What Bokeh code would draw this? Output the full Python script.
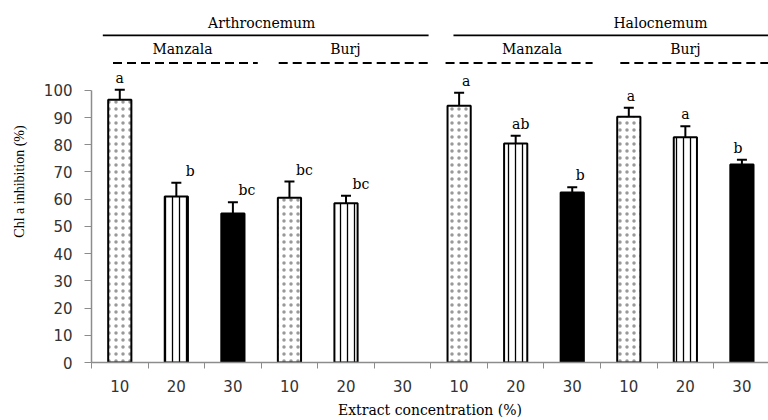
from bokeh.plotting import figure
from bokeh.models import ColumnDataSource, Whisker, TeeHead, FixedTicker, Range1d
from bokeh.core.properties import value
from bokeh.embed import file_html
from bokeh.resources import INLINE

# ---------------- data ----------------
concentrations = ["10", "20", "30", "10", "20", "30", "10", "20", "30", "10", "20", "30"]
species = ["Arthrocnemum"] * 6 + ["Halocnemum"] * 6
sites = ["Manzala"] * 3 + ["Burj"] * 3 + ["Manzala"] * 3 + ["Burj"] * 3
inhibition = [96.5, 61.0, 54.7, 60.5, 58.5, None, 94.3, 80.5, 62.5, 90.3, 82.8, 72.7]
errors = [3.7, 5.0, 4.2, 6.0, 2.8, None, 4.8, 2.8, 1.9, 3.3, 4.0, 1.8]
letters = ["a", "b", "bc", "bc", "bc", "", "a", "ab", "b", "a", "a", "b"]
y_ticks = [0, 10, 20, 30, 40, 50, 60, 70, 80, 90, 100]

# header annotations (layout)
species_labels = ["Arthrocnemum", "Halocnemum"]
species_x = [3.01, 10.06]
species_lines = [(0.2, 5.96), (6.40, 11.97)]
site_labels = ["Manzala", "Burj", "Manzala", "Burj"]
site_x = [1.61, 4.49, 7.79, 10.5]
site_lines = [(0.38, 2.94), (3.31, 5.96), (6.26, 8.86), (9.35, 11.97)]
letter_dx = [0, 14, 14, 15, 15, 0, 7, 5, 8, 2, 0, -4]

SERIF = value("DejaVu Serif")

p = figure(width=768, height=420, output_backend="svg", toolbar_location=None,
           x_range=Range1d(0, 11.97), y_range=Range1d(0, 133.0),
           min_border_left=91, min_border_right=0, min_border_top=0,
           min_border_bottom=56)
p.outline_line_color = None
p.xgrid.visible = False
p.ygrid.visible = False

styles = {
    "10": dict(fill_color="white", hatch_pattern="dot", hatch_scale=7, hatch_weight=1.0,
               hatch_alpha=0.4),
    "20": dict(fill_color="white", hatch_pattern="vertical_line", hatch_scale=7, hatch_weight=1.3),
    "30": dict(fill_color="black"),
}

idx = [i for i, v in enumerate(inhibition) if v is not None]
for c in ["10", "20", "30"]:
    ii = [i for i in idx if concentrations[i] == c]
    src = ColumnDataSource(dict(x=[i + 0.5 for i in ii], top=[inhibition[i] for i in ii]))
    p.vbar(x="x", top="top", width=0.41, source=src, line_color="black", line_width=2,
           hatch_color="black", **styles[c])

esrc = ColumnDataSource(dict(
    x=[i + 0.5 for i in idx],
    upper=[inhibition[i] + errors[i] for i in idx],
    lower=[inhibition[i] - errors[i] for i in idx],
    lab_y=[inhibition[i] + errors[i] + 4.4 for i in idx],
    lab=[letters[i] for i in idx],
    dx=[letter_dx[i] for i in idx],
))
p.add_layout(Whisker(source=esrc, base="x", upper="upper", lower="lower",
                     line_color="black", line_width=2,
                     upper_head=TeeHead(size=10, line_width=2, line_color="black"),
                     lower_head=TeeHead(size=10, line_width=2, line_color="black")))
p.text(x="x", y="lab_y", text="lab", x_offset="dx", source=esrc, text_font=SERIF,
       text_font_size="14px", text_align="center", text_baseline="middle", text_color="black")

# header
for (a, b) in species_lines:
    p.segment(x0=a, y0=120.2, x1=b, y1=120.2, line_color="black", line_width=1.6)
p.text(x=species_x, y=[124.6] * 2, text=species_labels, text_font=SERIF, text_font_size="14px",
       text_align="center", text_baseline="middle", text_color="black")
for (a, b) in site_lines:
    p.segment(x0=a, y0=110.0, x1=b, y1=110.0, line_color="black", line_width=2, line_dash="9 5")
p.text(x=site_x, y=[115.1] * 4, text=site_labels, text_font=SERIF, text_font_size="14px",
       text_align="center", text_baseline="middle", text_color="black")

# axes
AX = "#8c8c8c"
xa = p.xaxis[0]
xa.ticker = FixedTicker(ticks=[i + 0.5 for i in range(12)], minor_ticks=list(range(13)))
xa.major_label_overrides = {i + 0.5: concentrations[i] for i in range(12)}
xa.major_tick_line_color = None
xa.major_tick_out = 0
xa.major_tick_in = 0
xa.minor_tick_line_color = AX
xa.minor_tick_out = 6
xa.minor_tick_in = 0
xa.axis_line_color = AX
xa.axis_line_width = 1.5
xa.major_label_standoff = 11
xa.major_label_text_font = "DejaVu Sans"
xa.major_label_text_font_size = "15px"
xa.major_label_text_color = "#333333"
xa.axis_label = "Extract concentration (%)"
xa.axis_label_text_font = "DejaVu Serif"
xa.axis_label_text_font_style = "normal"
xa.axis_label_text_font_size = "14px"
xa.axis_label_text_color = "black"
xa.axis_label_standoff = 7

ya = p.yaxis[0]
ya.ticker = FixedTicker(ticks=y_ticks, minor_ticks=[])
ya.bounds = (0, 100)
ya.axis_line_color = AX
ya.axis_line_width = 1.5
ya.major_tick_line_color = AX
ya.major_tick_out = 7
ya.major_tick_in = 0
ya.minor_tick_line_color = None
ya.major_label_standoff = 12
ya.major_label_text_font = "DejaVu Sans"
ya.major_label_text_font_size = "15px"
ya.major_label_text_color = "#333333"
ya.axis_label = "Chl a inhibition (%)"
ya.axis_label_text_font = "Liberation Serif"
ya.axis_label_text_font_style = "normal"
ya.axis_label_text_font_size = "14px"
ya.axis_label_text_color = "black"
ya.axis_label_standoff = 14

open("out.html", "w").write(file_html(p, INLINE))
